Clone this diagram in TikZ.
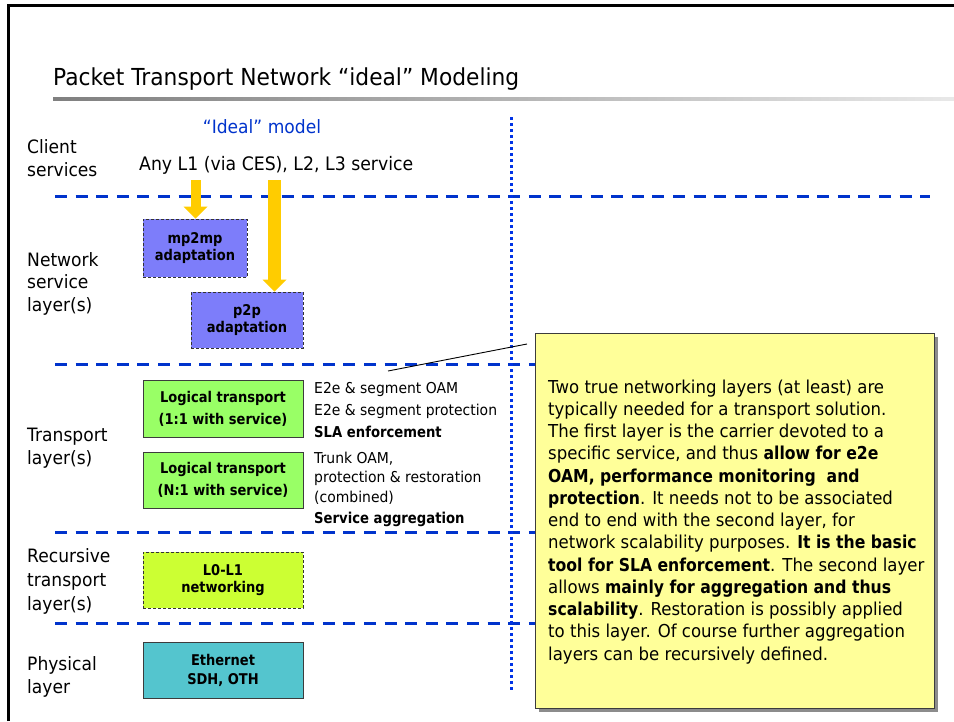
\documentclass[tikz,border=0pt]{standalone}
\usepackage{fontspec}
\setmainfont{DejaVu Sans}[FakeStretch=0.93,BoldFeatures={FakeStretch=0.88}]
\usetikzlibrary{arrows.meta}
\definecolor{layerblue}{RGB}{0,51,204}
\definecolor{dotblue}{RGB}{0,51,230}
\definecolor{arrowgold}{RGB}{255,204,0}
\definecolor{adaptfill}{RGB}{125,125,250}
\definecolor{transfill}{RGB}{153,255,102}
\definecolor{limefill}{RGB}{204,255,51}
\definecolor{physfill}{RGB}{84,197,206}
\definecolor{notefill}{RGB}{255,255,153}
\definecolor{edgegray}{RGB}{60,60,60}
\begin{document}
\begin{tikzpicture}[x=1pt,y=-1pt,
  layerline/.style={layerblue,line width=3pt,dash pattern=on 12pt off 8.6pt},
  sidelabel/.style={anchor=base west,align=left,inner sep=0pt,font=\fontsize{18.4}{#1}\selectfont},
  infotext/.style={anchor=base west,align=left,inner sep=0pt,font=\fontsize{15}{19.5}\selectfont},
  box/.style={rectangle,inner sep=0pt,align=center,line width=1pt},
  solidbox/.style={box,draw=edgegray},
  dashbox/.style={box,draw=black!80,dash pattern=on 3pt off 2pt},
  boxfont/.style={font=\bfseries\fontsize{14.8}{#1}\selectfont},
  feed/.style={arrowgold,line width=#1,-{Triangle[width=24pt,length=12pt,line width=0pt]}},
]
\useasboundingbox (0,0) rectangle (954,721);

% frame and heading
\draw[line width=3pt] (8.5,721) -- (8.5,5.5) -- (954,5.5);
\node[anchor=base west,inner sep=0pt,font=\fontsize{23.4}{27}\selectfont] (title) at (53,85)
  {Packet Transport Network “ideal” Modeling};
\shade[left color=black!50,right color=black!9] (53,97) rectangle (954,100);

% layer separators
\draw[layerline] (55,196.5) -- (930,196.5);
\draw[layerline] (55,364) -- (930,364);
\draw[layerline] (55,532.5) -- (930,532.5);
\draw[layerline] (55,623.5) -- (930,623.5);
\draw[dotblue,line width=3pt,dash pattern=on 3pt off 3pt] (511,117) -- (511,690);

% layer names (positioned by the baseline of their last line)
\node[sidelabel=22.5] (client) at (27,176) {Client\\services};
\node[sidelabel=22.5] (netsvc) at (27,311) {Network\\service\\layer(s)};
\node[sidelabel=22.5] (transp) at (27,464) {Transport\\layer(s)};
\node[sidelabel=24] (recur) at (27,610) {Recursive\\transport\\layer(s)};
\node[sidelabel=23] (phys) at (27,693) {Physical\\layer};

% model column
\node[anchor=base,inner sep=0pt,text=layerblue,font=\fontsize{18.4}{22}\selectfont] (ideal) at (262,133) {“Ideal” model};
\node[anchor=base west,inner sep=0pt,font=\fontsize{18.6}{22}\selectfont] (anysvc) at (139,170) {Any L1 (via CES), L2, L3 service};

\node[dashbox,fill=adaptfill,minimum width=104pt,minimum height=58pt,boxfont=17] (mp) at (195,248) {mp2mp\\adaptation};
\node[dashbox,fill=adaptfill,minimum width=112pt,minimum height=56pt,boxfont=16.5] (pp) at (247,320) {p2p\\adaptation};
\node[solidbox,fill=transfill,minimum width=160pt,minimum height=57pt,boxfont=22] (lt1) at (223,408.5) {Logical transport\\(1:1 with service)};
\node[solidbox,fill=transfill,minimum width=160pt,minimum height=56pt,boxfont=22] (lt2) at (223,480) {Logical transport\\(N:1 with service)};
\node[dashbox,fill=limefill,minimum width=160pt,minimum height=56pt,boxfont=17] (l0) at (223,580) {L0-L1\\networking};
\node[solidbox,fill=physfill,minimum width=160pt,minimum height=56pt,boxfont=19] (eth) at (223,670) {Ethernet\\SDH, OTH};

% feeds from the client services into the adaptations
\coordinate (feedA) at (195.5,180);
\coordinate (feedB) at (274.5,180);
\draw[feed=10pt] (feedA) -- (feedA |- mp.north);
\draw[feed=13pt] (feedB) -- (feedB |- pp.north);

% transport layer functions
\node[infotext] (oam) at (314,393) {E2e \& segment OAM};
\node[infotext] (prot) at (314,415) {E2e \& segment protection};
\node[infotext,font=\bfseries\fontsize{15}{19.5}\selectfont] (sla) at (314,437) {SLA enforcement};
\node[infotext] (trunk) at (314,502) {Trunk OAM,\\protection \& restoration\\(combined)};
\node[infotext,font=\bfseries\fontsize{15}{19.5}\selectfont] (aggr) at (314,523) {Service aggregation};

% explanatory note
\fill[black!45] (538.5,336.5) rectangle (937.5,711.5);
\node[draw=edgegray,fill=notefill,line width=1pt,minimum width=399pt,minimum height=375pt,inner sep=0pt,anchor=north west] (notebox) at (535,333) {};
\node[anchor=base west,align=left,inner sep=0pt,font=\fontsize{17.8}{22.25}\selectfont] (notetext) at (548,660)
  {Two true networking layers (at least) are\\
   typically needed for a transport solution.\\
   The first layer is the carrier devoted to a\\
   specific service, and thus \textbf{allow for e2e}\\
   \textbf{OAM, performance monitoring\ \ and}\\
   \textbf{protection}. It needs not to be associated\\
   end to end with the second layer, for\\
   network scalability purposes. \textbf{It is the basic}\\
   \textbf{tool for SLA enforcement}. The second layer\\
   allows \textbf{mainly for aggregation and thus}\\
   \textbf{scalability}. Restoration is possibly applied\\
   to this layer. Of course further aggregation\\
   layers can be recursively defined.};

% pointer towards the note
\coordinate (calloutA) at (388,371);
\coordinate (calloutB) at (527,344);
\draw[line width=0.9pt] (calloutA) -- (calloutB);
\end{tikzpicture}
\end{document}
